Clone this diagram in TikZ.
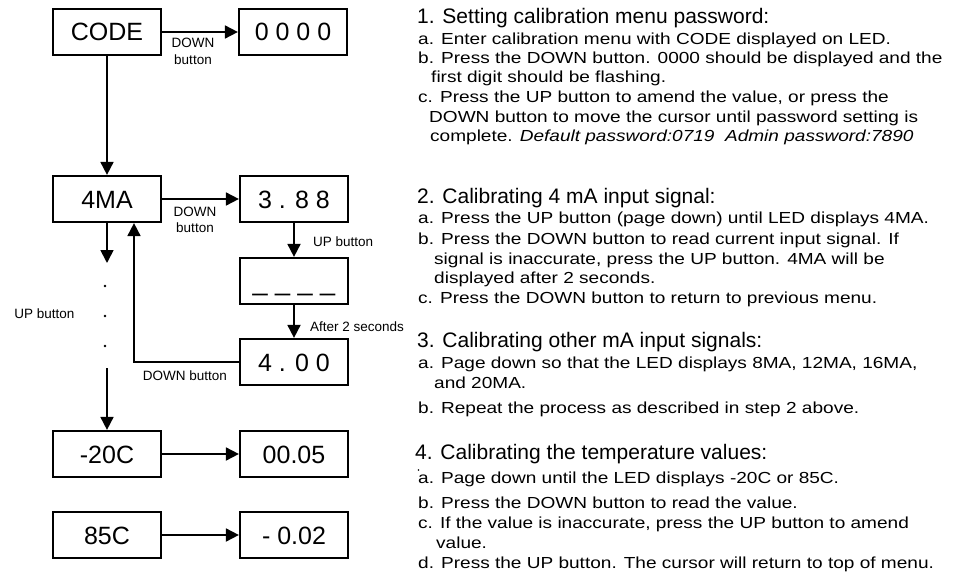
\documentclass[tikz,border=0pt]{standalone}
\usepackage{fontspec}
\setmainfont{Liberation Sans}
\newfontfamily\notefont[FakeStretch=1.19]{Liberation Sans}
\usetikzlibrary{positioning}
\usetikzlibrary{arrows.meta}
\usetikzlibrary{calc}

\begin{document}
\begin{tikzpicture}[x=1pt,y=-1pt,
  lcd/.style={draw, line width=2.2pt, minimum width=108pt, minimum height=46pt, inner sep=0pt,
    text height=18pt, text depth=0pt, font=\fontsize{25}{30}\selectfont},
  flow/.style={line width=1.8pt, -{Triangle[length=13pt,width=13pt]}},
  tag/.style={inner sep=0pt, align=center, font=\fontsize{13.5}{16.5}\selectfont},
  head/.style={anchor=base west, inner sep=0pt, font=\fontsize{21}{24}\selectfont},
  note/.style={anchor=base west, inner sep=0pt, align=left, font=\notefont\fontsize{16}{19.5}\selectfont},
]
\useasboundingbox (0,0) rectangle (955,575);

\node[lcd] (code) at (107,32) {CODE};
\node[lcd] (pw) at (293,32) {0 0 0 0};
\node[lcd] (ma4) at (107,199) {4MA};
\node[lcd] (read) at (294,199) {3 . 8 8};
\node[lcd] (wait) at (294,281) {\fontsize{27}{30}\selectfont\_ \_ \_ \_};
\node[lcd] (done) at (294,362) {4 . 0 0};
\node[lcd] (tlow) at (107,454) {-20C};
\node[lcd] (tlowv) at (294,454) {00.05};
\node[lcd] (thigh) at (107,535) {85C};
\node[lcd] (thighv) at (294,535) {- 0.02};

\coordinate (gap1) at (107,263);
\coordinate (gap2) at (107,368);

\draw[flow] (code) -- (pw);
\draw[flow] (code) -- (ma4);
\draw[flow] (ma4) -- (read);
\draw[flow] (read) -- (wait);
\draw[flow] (wait) -- (done);
\draw[flow] (done.west) -| ($(ma4.south)+(27,0)$);
\draw[flow] (ma4.south) -- (gap1);
\draw[flow] (gap2) -- (tlow);
\draw[flow] (tlow) -- (tlowv);
\draw[flow] (thigh) -- (thighv);
\foreach \y in {286,316,346} \fill (105,\y) circle (1.3pt);

\node[tag] (dn1) at (193,51.5) {DOWN\\button};
\node[tag] (dn2) at (195,220) {DOWN\\button};
\node[tag, anchor=west] (up1) at (313,242) {UP button};
\node[tag, anchor=west] (aft) at (310,327) {After 2 seconds};
\node[tag] (dn3) at (185,376) {DOWN button};
\node[tag] (up2) at (44.5,314) {UP button};

\node[head] (h1) at (417,24) {1. Setting calibration menu password:};
\node[note] (n1a) at (418,44.5) {a. Enter calibration menu with CODE displayed on LED.};
\node[note] (n1b) at (418,83) {b. Press the DOWN button. 0000 should be displayed and the\\\hspace*{13pt}first digit should be flashing.};
\node[note] (n1c) at (418,141.5) {c. Press the UP button to amend the value, or press the\\\hspace*{11pt}DOWN button to move the cursor until password setting is\\\hspace*{12pt}complete. \textit{Default password:0719~~Admin password:7890}};

\node[head] (h2) at (417,203) {2. Calibrating 4 mA input signal:};
\node[note] (n2a) at (418,223.5) {a. Press the UP button (page down) until LED displays 4MA.};
\node[note] (n2b) at (418,283.5) {b. Press the DOWN button to read current input signal. If\\\hspace*{16pt}signal is inaccurate, press the UP button. 4MA will be\\\hspace*{16pt}displayed after 2 seconds.};
\node[note] (n2c) at (418,303.5) {c. Press the DOWN button to return to previous menu.};

\node[head] (h3) at (417,347) {3. Calibrating other mA input signals:};
\node[note] (n3a) at (418,388) {a. Page down so that the LED displays 8MA, 12MA, 16MA,\\\hspace*{16pt}and 20MA.};
\node[note] (n3b) at (418,413.5) {b. Repeat the process as described in step 2 above.};

\node[head] (h4) at (415,459) {4. Calibrating the temperature values:};
\fill (418.5,470) circle (0.9pt);
\node[note] (n4a) at (418,483.5) {a. Page down until the LED displays -20C or 85C.};
\node[note] (n4b) at (418,508.5) {b. Press the DOWN button to read the value.};
\node[note] (n4c) at (418,548) {c. If the value is inaccurate, press the UP button to amend\\\hspace*{18pt}value.};
\node[note] (n4d) at (418,568.5) {d. Press the UP button. The cursor will return to top of menu.};
\end{tikzpicture}
\end{document}
